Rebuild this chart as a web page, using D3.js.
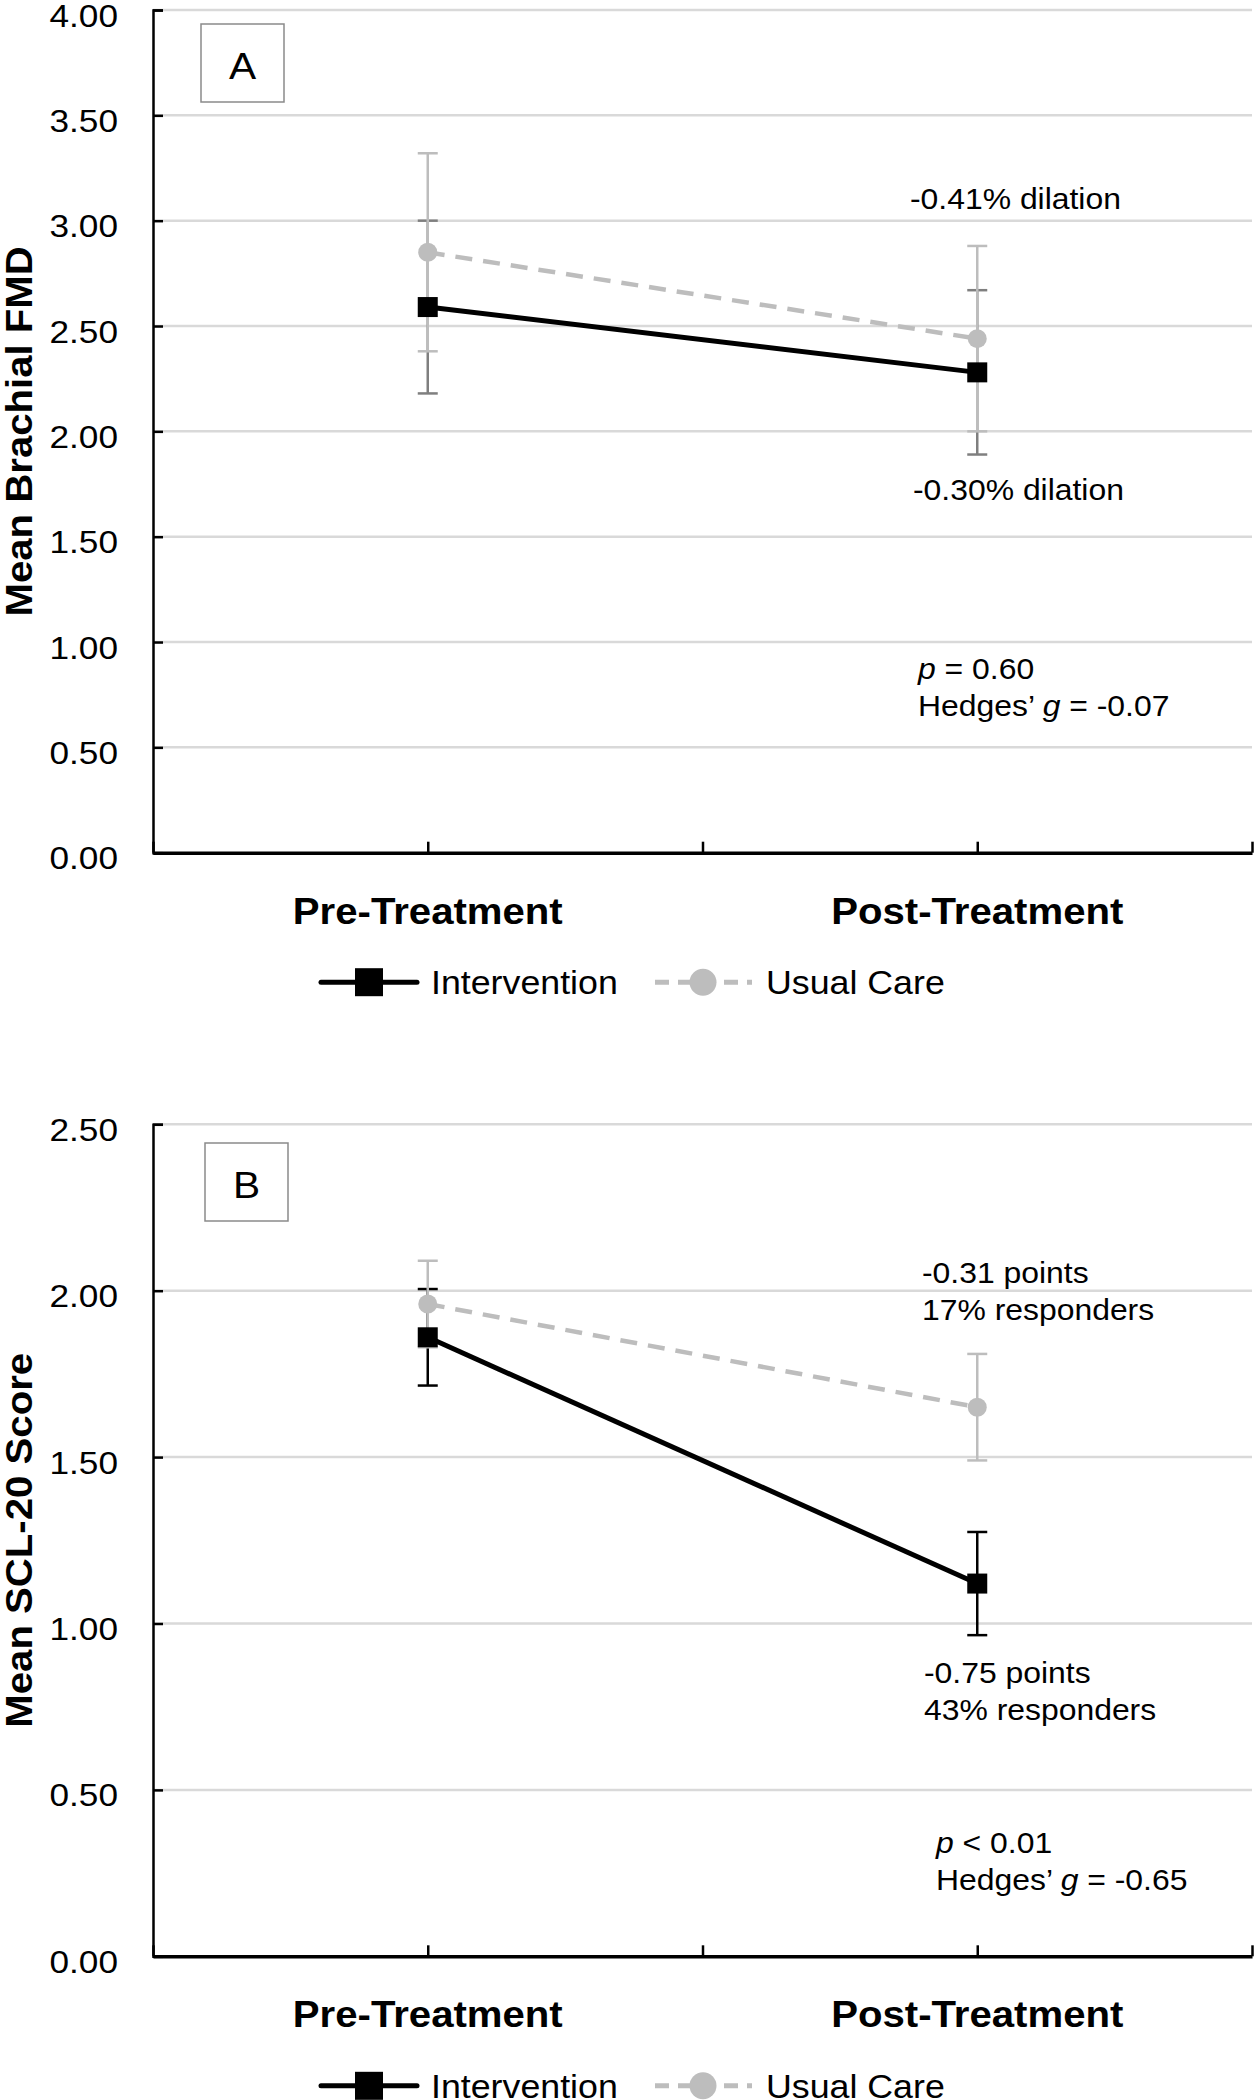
<!DOCTYPE html>
<html>
<head>
<meta charset="utf-8">
<script src="https://cdn.jsdelivr.net/npm/d3@7/dist/d3.min.js"></script>
<style>
  html, body { margin: 0; padding: 0; background: #fff; }
  svg { display: block; }
</style>
</head>
<body>
<svg id="chart" width="1255" height="2100"></svg>
<script>
// ---------------- DATA ----------------
const categories = ["Pre-Treatment", "Post-Treatment"];
const seriesNames = ["Intervention", "Usual Care"];

// Panel A: Mean Brachial FMD
const fmdIntervention    = [2.59, 2.28];
const fmdInterventionErr = [0.41, 0.39];
const fmdUsualCare       = [2.85, 2.44];
const fmdUsualCareErr    = [0.47, 0.44];
const fmdTicks = [0, 0.5, 1.0, 1.5, 2.0, 2.5, 3.0, 3.5, 4.0];

// Panel B: Mean SCL-20 Score
const sclIntervention    = [1.86, 1.12];
const sclInterventionErr = [0.145, 0.155];
const sclUsualCare       = [1.96, 1.65];
const sclUsualCareErr    = [0.13, 0.16];
const sclTicks = [0, 0.5, 1.0, 1.5, 2.0, 2.5];

const panelLabels = ["A", "B"];
const axisTitles = ["Mean Brachial FMD", "Mean SCL-20 Score"];
const fmdNotes = [["-0.41% dilation"], ["-0.30% dilation"]];
const sclNotes = [["-0.31 points", "17% responders"], ["-0.75 points", "43% responders"]];
const fmdStats = { p: "= 0.60", g: "= -0.07" };
const sclStats = { p: "< 0.01", g: "= -0.65" };

// ---------------- STYLE ----------------
const FONT = "'Liberation Sans', Arial, Helvetica, sans-serif";
const S = 1.1; // horizontal glyph stretch
const GRAY = "#bdbdbd";
const svg = d3.select("#chart");
svg.append("rect").attr("width", 1255).attr("height", 2100).attr("fill", "#fff");

const x = d3.scaleLinear().domain([0, 4]).range([153, 1252]);
const catX = i => x(1 + 2 * i);

function stext(g, px, py, opts) {
  const t = g.append("text")
    .attr("transform", `translate(${px},${py})${opts.rotate ? " rotate(" + opts.rotate + ")" : ""} scale(${S},1)`)
    .attr("font-family", FONT)
    .attr("font-size", opts.size)
    .attr("font-weight", opts.bold ? "bold" : "normal")
    .attr("text-anchor", opts.anchor || "start")
    .attr("fill", "#000");
  return t;
}

function drawPanel(cfg) {
  const g = svg.append("g");
  const y = d3.scaleLinear().domain([0, cfg.max]).range([cfg.bottom, cfg.top]);

  // gridlines
  g.append("g").selectAll("line").data(cfg.ticks.filter(d => d > 0)).join("line")
    .attr("x1", x(0)).attr("x2", x(4))
    .attr("y1", d => y(d)).attr("y2", d => y(d))
    .attr("stroke", "#d9d9d9").attr("stroke-width", 2.5);

  // y axis
  const ya = g.append("g").attr("transform", `translate(${x(0)},0)`)
    .call(d3.axisLeft(y).tickValues(cfg.ticks).tickSize(-10).tickPadding(35).tickFormat(d3.format(".2f")));
  ya.select(".domain").attr("stroke", "#000").attr("stroke-width", 2.5);
  ya.selectAll(".tick line").attr("stroke", "#000").attr("stroke-width", 2.5);
  ya.selectAll(".tick text")
    .attr("font-family", FONT).attr("font-size", 32).attr("fill", "#000")
    .attr("x", -35 / S).attr("dy", null).attr("y", 16)
    .attr("transform", `scale(${S},1)`);

  // x axis
  const xa = g.append("g").attr("transform", `translate(0,${cfg.bottom})`)
    .call(d3.axisBottom(x).tickValues([0, 1, 2, 3, 4]).tickSizeInner(-11).tickSizeOuter(0).tickFormat(""));
  xa.select(".domain").attr("stroke", "#000").attr("stroke-width", 3.5);
  xa.selectAll(".tick line").attr("stroke", "#000").attr("stroke-width", 2.5);

  // category labels
  categories.forEach((c, i) => {
    stext(g, catX(i), cfg.bottom + 71, { size: 36.5, bold: true, anchor: "middle" }).text(c);
  });

  // y title
  stext(g, 32, (cfg.top + cfg.bottom) / 2, { size: 36.5, bold: true, anchor: "middle", rotate: -90 }).text(cfg.title);

  // panel label box
  g.append("rect").attr("x", cfg.box[0]).attr("y", cfg.box[1]).attr("width", 83).attr("height", 78)
    .attr("fill", "#fff").attr("stroke", "#8a8a8a").attr("stroke-width", 1.5);
  stext(g, cfg.box[0] + 41.5, cfg.box[1] + 54.5, { size: 37, anchor: "middle" }).text(cfg.label);

  const cap = 10;
  function errorBars(vals, errs, color) {
    vals.forEach((v, i) => {
      const cx = catX(i), y1 = y(v + errs[i]), y2 = y(v - errs[i]);
      g.append("line").attr("x1", cx).attr("x2", cx).attr("y1", y1).attr("y2", y2)
        .attr("stroke", color).attr("stroke-width", 2.5);
      [y1, y2].forEach(yy => g.append("line").attr("x1", cx - cap).attr("x2", cx + cap)
        .attr("y1", yy).attr("y2", yy).attr("stroke", color).attr("stroke-width", 2.5));
    });
  }
  errorBars(cfg.int, cfg.intErr, cfg.intErrColor);
  errorBars(cfg.uc, cfg.ucErr, GRAY);

  const line = d3.line().x((d, i) => catX(i)).y(d => y(d));
  g.append("path").datum(cfg.uc).attr("d", line).attr("fill", "none")
    .attr("stroke", GRAY).attr("stroke-width", 4.5).attr("stroke-dasharray", "17,11");
  g.append("path").datum(cfg.int).attr("d", line).attr("fill", "none")
    .attr("stroke", "#000").attr("stroke-width", 5);

  g.selectAll(null).data(cfg.uc).join("circle")
    .attr("cx", (d, i) => catX(i)).attr("cy", d => y(d)).attr("r", 9.5).attr("fill", GRAY);
  g.selectAll(null).data(cfg.int).join("rect")
    .attr("x", (d, i) => catX(i) - 10).attr("y", d => y(d) - 10)
    .attr("width", 20).attr("height", 20).attr("fill", "#000");

  // annotations
  cfg.notes.forEach(n => {
    n.lines.forEach((ln, k) => {
      stext(g, n.x, n.y + k * n.lh, { size: 29 }).text(ln);
    });
  });
  const st = cfg.stats;
  const t1 = stext(g, st.x, st.y, { size: 29 });
  t1.append("tspan").attr("font-style", "italic").text("p");
  t1.append("tspan").text(" " + st.p);
  const t2 = stext(g, st.x, st.y + st.lh, { size: 29 });
  t2.append("tspan").text("Hedges\u2019 ");
  t2.append("tspan").attr("font-style", "italic").text("g");
  t2.append("tspan").text(" " + st.g);

  // legend
  const ly = cfg.bottom + 129.5;
  const lg = g.append("g");
  lg.append("line").attr("x1", 321).attr("x2", 417).attr("y1", ly).attr("y2", ly)
    .attr("stroke", "#000").attr("stroke-width", 5).attr("stroke-linecap", "round");
  lg.append("rect").attr("x", 355).attr("y", ly - 14).attr("width", 28).attr("height", 28).attr("fill", "#000");
  stext(lg, 431, ly + 12, { size: 32.5 }).text(seriesNames[0]);
  lg.append("line").attr("x1", 655).attr("x2", 752).attr("y1", ly).attr("y2", ly)
    .attr("stroke", GRAY).attr("stroke-width", 5).attr("stroke-dasharray", "14,9");
  lg.append("circle").attr("cx", 703).attr("cy", ly).attr("r", 13.5).attr("fill", GRAY);
  stext(lg, 766, ly + 12, { size: 32.5 }).text(seriesNames[1]);
}

drawPanel({
  top: 10, bottom: 852.7, max: 4, ticks: fmdTicks, title: axisTitles[0], label: panelLabels[0],
  box: [201, 24],
  int: fmdIntervention, intErr: fmdInterventionErr, intErrColor: "#7f7f7f",
  uc: fmdUsualCare, ucErr: fmdUsualCareErr,
  notes: [
    { x: 910, y: 209, lh: 37, lines: fmdNotes[0] },
    { x: 913, y: 500, lh: 37, lines: fmdNotes[1] }
  ],
  stats: { x: 918, y: 679, lh: 37, p: fmdStats.p, g: fmdStats.g }
});

drawPanel({
  top: 1124.3, bottom: 1956.3, max: 2.5, ticks: sclTicks, title: axisTitles[1], label: panelLabels[1],
  box: [205, 1143],
  int: sclIntervention, intErr: sclInterventionErr, intErrColor: "#000",
  uc: sclUsualCare, ucErr: sclUsualCareErr,
  notes: [
    { x: 922, y: 1283, lh: 37, lines: sclNotes[0] },
    { x: 924, y: 1683, lh: 37, lines: sclNotes[1] }
  ],
  stats: { x: 936, y: 1853, lh: 37, p: sclStats.p, g: sclStats.g }
});
</script>
</body>
</html>
